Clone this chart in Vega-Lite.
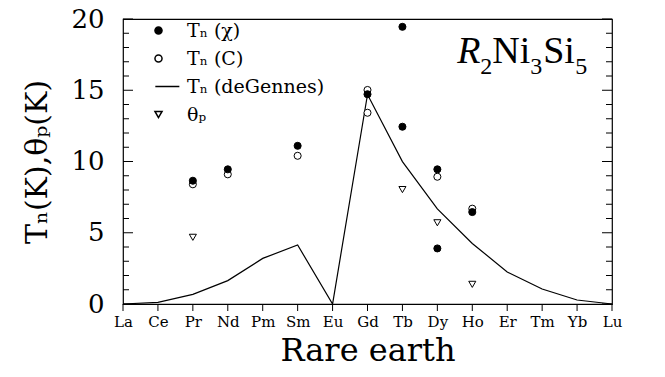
{
  "$schema": "https://vega.github.io/schema/vega-lite/v6.json",
  "width": 489,
  "height": 285,
  "autosize": {"type": "none"},
  "padding": {"left": 123, "top": 19, "right": 53, "bottom": 73},
  "background": "white",
  "config": {
    "view": {"stroke": "black", "strokeWidth": 1.2},
    "font": "DejaVu Serif"
  },
  "datasets": {
    "dg": [
      {"el": "La", "v": 0}, {"el": "Ce", "v": 0.12}, {"el": "Pr", "v": 0.68},
      {"el": "Nd", "v": 1.64}, {"el": "Pm", "v": 3.2}, {"el": "Sm", "v": 4.14},
      {"el": "Eu", "v": 0}, {"el": "Gd", "v": 14.7}, {"el": "Tb", "v": 9.99},
      {"el": "Dy", "v": 6.67}, {"el": "Ho", "v": 4.25}, {"el": "Er", "v": 2.25},
      {"el": "Tm", "v": 1.05}, {"el": "Yb", "v": 0.28}, {"el": "Lu", "v": 0}
    ],
    "pts": [
      {"el": "Pr", "v": 8.4, "s": "Tₙ (C)"},
      {"el": "Nd", "v": 9.1, "s": "Tₙ (C)"},
      {"el": "Sm", "v": 10.4, "s": "Tₙ (C)"},
      {"el": "Gd", "v": 15.02, "s": "Tₙ (C)"},
      {"el": "Gd", "v": 13.42, "s": "Tₙ (C)"},
      {"el": "Dy", "v": 8.93, "s": "Tₙ (C)"},
      {"el": "Ho", "v": 6.69, "s": "Tₙ (C)"},
      {"el": "Pr", "v": 4.68, "s": "θₚ"},
      {"el": "Tb", "v": 8.03, "s": "θₚ"},
      {"el": "Dy", "v": 5.7, "s": "θₚ"},
      {"el": "Ho", "v": 1.38, "s": "θₚ"},
      {"el": "Pr", "v": 8.65, "s": "Tₙ (χ)"},
      {"el": "Nd", "v": 9.45, "s": "Tₙ (χ)"},
      {"el": "Sm", "v": 11.1, "s": "Tₙ (χ)"},
      {"el": "Gd", "v": 14.72, "s": "Tₙ (χ)"},
      {"el": "Tb", "v": 19.45, "s": "Tₙ (χ)"},
      {"el": "Tb", "v": 12.44, "s": "Tₙ (χ)"},
      {"el": "Dy", "v": 9.45, "s": "Tₙ (χ)"},
      {"el": "Dy", "v": 3.9, "s": "Tₙ (χ)"},
      {"el": "Ho", "v": 6.45, "s": "Tₙ (χ)"}
    ],
    "yticks": [
      {"v": 0}, {"v": 1}, {"v": 2}, {"v": 3}, {"v": 4}, {"v": 5}, {"v": 6}, {"v": 7},
      {"v": 8}, {"v": 9}, {"v": 10}, {"v": 11}, {"v": 12}, {"v": 13}, {"v": 14},
      {"v": 15}, {"v": 16}, {"v": 17}, {"v": 18}, {"v": 19}, {"v": 20}
    ]
  },
  "encoding": {
    "x": {
      "field": "el", "type": "nominal",
      "sort": ["La","Ce","Pr","Nd","Pm","Sm","Eu","Gd","Tb","Dy","Ho","Er","Tm","Yb","Lu"],
      "scale": {"type": "point", "padding": 0},
      "axis": {
        "labelAngle": 0, "ticks": false,
        "domain": false, "labelFont": "DejaVu Serif", "labelFontSize": 15,
        "labelColor": "black", "labelPadding": 10,
        "title": "Rare earth", "titleFont": "DejaVu Serif", "titleFontSize": 32,
        "titleFontWeight": "normal", "titleColor": "black", "titlePadding": 6
      }
    }
  },
  "layer": [
    {
      "data": {"name": "dg"},
      "mark": {"type": "line", "color": "black", "strokeWidth": 1.2},
      "encoding": {
        "y": {
          "field": "v", "type": "quantitative",
          "scale": {"domain": [0, 20], "nice": false},
          "axis": {
            "orient": "left",
            "values": [0, 5, 10, 15, 20],
            "ticks": false, "domain": false, "grid": false,
            "labelFont": "DejaVu Serif", "labelFontSize": 26, "labelColor": "black",
            "labelPadding": 19, "labelOverlap": false, "labelFlush": false,
            "title": "Tₙ(K),θₚ(K)", "titleFont": "DejaVu Serif", "titleFontSize": 30,
            "titleFontWeight": "normal", "titleColor": "black", "titlePadding": 18
          }
        }
      }
    },
    {
      "data": {"name": "yticks"},
      "mark": {"type": "point", "shape": "M0,0H2", "filled": false, "stroke": "black", "strokeWidth": 1, "opacity": 1},
      "encoding": {
        "x": {"datum": "La"},
        "y": {"field": "v", "type": "quantitative", "axis": null},
        "size": {"condition": {"test": "datum.v % 5 === 0", "value": 100}, "value": 36}
      }
    },
    {
      "data": {"name": "yticks"},
      "mark": {"type": "point", "shape": "M0,0H-2", "filled": false, "stroke": "black", "strokeWidth": 1, "opacity": 1},
      "encoding": {
        "x": {"datum": "Lu"},
        "y": {"field": "v", "type": "quantitative", "axis": null},
        "size": {"condition": {"test": "datum.v % 5 === 0", "value": 100}, "value": 36}
      }
    },
    {
      "data": {"name": "dg"},
      "mark": {"type": "point", "shape": "M0,0V2", "filled": false, "stroke": "black", "strokeWidth": 1, "size": 49, "opacity": 1},
      "encoding": {
        "y": {"datum": 0, "axis": null}
      }
    },
    {
      "data": {"name": "pts"},
      "mark": {"type": "point", "filled": true, "stroke": "black", "strokeWidth": 1, "size": 50, "opacity": 1},
      "encoding": {
        "y": {"field": "v", "type": "quantitative", "axis": null},
        "shape": {
          "field": "s", "type": "nominal",
          "scale": {"domain": ["Tₙ (χ)", "Tₙ (C)", "Tₙ (deGennes)", "θₚ"], "range": ["circle", "circle", "M-0.9,0L5.9,0", "triangle-down"]},
          "legend": {
            "title": null, "orient": "none", "legendX": 26, "legendY": 2, "padding": 0,
            "labelFont": "DejaVu Serif", "labelFontSize": 19, "labelColor": "black",
            "rowPadding": 8, "labelOffset": 19, "symbolSize": 50,
            "encode": {"symbols": {"update": {"stroke": {"value": "black"}, "strokeWidth": {"value": 1}}}}
          }
        },
        "fill": {
          "field": "s", "type": "nominal",
          "scale": {"domain": ["Tₙ (χ)", "Tₙ (C)", "Tₙ (deGennes)", "θₚ"], "range": ["black", "white", "black", "white"]},
          "legend": {
            "title": null, "orient": "none", "legendX": 26, "legendY": 2, "padding": 0,
            "labelFont": "DejaVu Serif", "labelFontSize": 19, "labelColor": "black",
            "rowPadding": 8, "labelOffset": 19, "symbolSize": 50,
            "encode": {"symbols": {"update": {"stroke": {"value": "black"}, "strokeWidth": {"value": 1}}}}
          }
        }
      }
    },
    {
      "data": {"values": [{"t": "R"}]},
      "mark": {"type": "text", "font": "Liberation Serif", "fontStyle": "italic", "fontSize": 38, "align": "left", "baseline": "alphabetic", "dx": -50, "color": "black"},
      "encoding": {"x": {"datum": "Er"}, "y": {"datum": 16.9, "axis": null}, "text": {"field": "t"}}
    },
    {
      "data": {"values": [{"t": "2"}]},
      "mark": {"type": "text", "font": "Liberation Serif", "fontSize": 24, "align": "left", "baseline": "alphabetic", "dx": -27, "dy": 11, "color": "black"},
      "encoding": {"x": {"datum": "Er"}, "y": {"datum": 16.9, "axis": null}, "text": {"field": "t"}}
    },
    {
      "data": {"values": [{"t": "Ni"}]},
      "mark": {"type": "text", "font": "Liberation Serif", "fontSize": 38, "align": "left", "baseline": "alphabetic", "dx": -15, "color": "black"},
      "encoding": {"x": {"datum": "Er"}, "y": {"datum": 16.9, "axis": null}, "text": {"field": "t"}}
    },
    {
      "data": {"values": [{"t": "3"}]},
      "mark": {"type": "text", "font": "Liberation Serif", "fontSize": 24, "align": "left", "baseline": "alphabetic", "dx": 23, "dy": 11, "color": "black"},
      "encoding": {"x": {"datum": "Er"}, "y": {"datum": 16.9, "axis": null}, "text": {"field": "t"}}
    },
    {
      "data": {"values": [{"t": "Si"}]},
      "mark": {"type": "text", "font": "Liberation Serif", "fontSize": 38, "align": "left", "baseline": "alphabetic", "dx": 36, "color": "black"},
      "encoding": {"x": {"datum": "Er"}, "y": {"datum": 16.9, "axis": null}, "text": {"field": "t"}}
    },
    {
      "data": {"values": [{"t": "5"}]},
      "mark": {"type": "text", "font": "Liberation Serif", "fontSize": 24, "align": "left", "baseline": "alphabetic", "dx": 68, "dy": 11, "color": "black"},
      "encoding": {"x": {"datum": "Er"}, "y": {"datum": 16.9, "axis": null}, "text": {"field": "t"}}
    }
  ],
  "resolve": {"axis": {"y": "independent"}}
}
